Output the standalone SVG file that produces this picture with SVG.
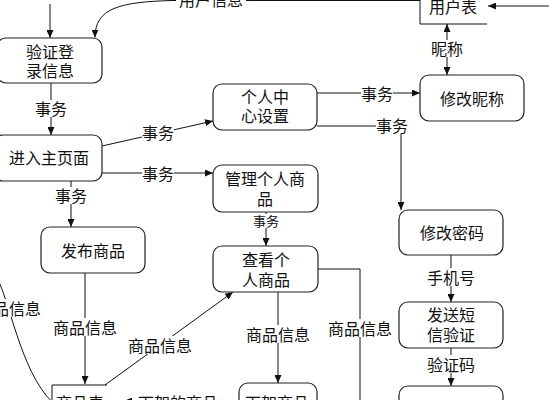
<svg xmlns="http://www.w3.org/2000/svg" width="549" height="400" viewBox="0 0 549 400">
<style>
text{font-family:"Noto Sans CJK SC","Liberation Sans",sans-serif;font-size:16px;fill:#111;text-anchor:middle;dominant-baseline:central}
.box{fill:#fff;stroke:#222;stroke-width:1.2}
.ln{fill:none;stroke:#111;stroke-width:1}
.bg{fill:#fff}
.sm{font-size:13px}
</style>
<defs>
<marker id="ar" markerWidth="8" markerHeight="7" refX="8" refY="3.5" orient="auto" markerUnits="userSpaceOnUse">
<path d="M0,0 L8,3.5 L0,7 z" fill="#111"/>
</marker>
<marker id="as" markerWidth="8" markerHeight="7" refX="0" refY="3.5" orient="auto" markerUnits="userSpaceOnUse">
<path d="M8,0 L0,3.5 L8,7 z" fill="#111"/>
</marker>
</defs>
<g id="connectors">
<line class="ln" x1="50" y1="4" x2="50" y2="38" marker-end="url(#ar)"/>
<path class="ln" d="M420 0.5 H172 C120 2 95 8 95 37.5" marker-end="url(#ar)"/>
<rect class="bg" x="176" y="-10" width="70" height="17"/><text x="211" y="-1">用户信息</text>
<line class="ln" x1="51" y1="83" x2="51" y2="135" marker-end="url(#ar)"/>
<rect class="bg" x="35" y="100" width="32" height="17"/><text x="51" y="108">事务</text>
<line class="ln" x1="102" y1="146" x2="213" y2="121" marker-end="url(#ar)"/>
<rect class="bg" x="142" y="124" width="32" height="17"/><text x="158" y="132">事务</text>
<line class="ln" x1="102" y1="173" x2="213" y2="173" marker-end="url(#ar)"/>
<rect class="bg" x="142" y="165" width="32" height="17"/><text x="158" y="173">事务</text>
<line class="ln" x1="71" y1="181" x2="71" y2="227" marker-end="url(#ar)"/>
<rect class="bg" x="55" y="187" width="32" height="17"/><text x="71" y="195">事务</text>
<line class="ln" x1="266" y1="212" x2="266" y2="246" marker-end="url(#ar)"/>
<rect class="bg" x="253" y="214" width="26" height="14"/><text class="sm" x="266" y="220">事务</text>
<line class="ln" x1="85" y1="273" x2="85" y2="384" marker-end="url(#ar)"/>
<rect class="bg" x="52" y="318" width="66" height="18"/><text x="85" y="327">商品信息</text>
<line class="ln" x1="105" y1="385" x2="233" y2="292" marker-end="url(#ar)"/>
<rect class="bg" x="127" y="336" width="66" height="18"/><text x="160" y="345">商品信息</text>
<line class="ln" x1="278" y1="292" x2="278" y2="383" marker-end="url(#ar)"/>
<rect class="bg" x="245" y="325" width="66" height="18"/><text x="278" y="334">商品信息</text>
<path class="ln" d="M318 269 H360 V420"/>
<rect class="bg" x="327" y="319" width="66" height="18"/><text x="360" y="328">商品信息</text>
<line class="ln" x1="317" y1="93" x2="420" y2="93" marker-end="url(#ar)"/>
<rect class="bg" x="361" y="85" width="32" height="17"/><text x="377" y="93">事务</text>
<path class="ln" d="M317 126 H401 V210" marker-end="url(#ar)"/>
<rect class="bg" x="376" y="117" width="32" height="17"/><text x="392" y="125">事务</text>
<line class="ln" x1="447" y1="24" x2="447" y2="75" marker-start="url(#as)" marker-end="url(#ar)"/>
<rect class="bg" x="431" y="40" width="32" height="17"/><text x="447" y="48">昵称</text>
<line class="ln" x1="549" y1="6" x2="488" y2="6" marker-end="url(#ar)"/>
<line class="ln" x1="451" y1="255" x2="451" y2="302" marker-end="url(#ar)"/>
<rect class="bg" x="427" y="268" width="48" height="18"/><text x="451" y="277">手机号</text>
<line class="ln" x1="451" y1="348" x2="451" y2="386" marker-end="url(#ar)"/>
<rect class="bg" x="427" y="355" width="48" height="18"/><text x="451" y="364">验证码</text>
<path class="ln" d="M-4 276 C10 300 20 370 52 402"/>
<rect class="bg" x="-24" y="299" width="66" height="18"/><text x="9" y="308">商品信息</text>
<line class="ln" x1="239" y1="401" x2="124" y2="401" marker-end="url(#ar)"/>
<rect class="bg" x="137" y="393" width="83" height="18"/><text x="178" y="402">下架的商品</text>
</g>
<g id="n-yonghubiao"><path class="ln" d="M420 -20 V24 H487"/><text x="453" y="6">用户表</text></g>
<g id="n-shangpinbiao"><path class="ln" d="M52 430 V385 H107"/><text x="80" y="402">商品表</text></g>
<g id="n-yanzheng"><rect class="box" x="-3" y="38" width="105" height="45" rx="9"/><text x="50" y="51">验证登<tspan x="50" dy="19">录信息</tspan></text></g>
<g id="n-zhuye"><rect class="box" x="-6" y="135" width="108" height="46" rx="9"/><text x="49" y="157">进入主页面</text></g>
<g id="n-geren"><rect class="box" x="213" y="84" width="104" height="46" rx="9"/><text x="265" y="96">个人中<tspan x="265" dy="19">心设置</tspan></text></g>
<g id="n-guanli"><rect class="box" x="213" y="165" width="105" height="47" rx="9"/><text x="265" y="178">管理个人商<tspan x="265" dy="20">品</tspan></text></g>
<g id="n-fabu"><rect class="box" x="41" y="227" width="104" height="46" rx="9"/><text x="93" y="250">发布商品</text></g>
<g id="n-chakan"><rect class="box" x="213" y="246" width="105" height="46" rx="9"/><text x="266" y="259">查看个<tspan x="266" dy="20">人商品</tspan></text></g>
<g id="n-xiajia"><rect class="box" x="239" y="383" width="78" height="40" rx="9"/><text x="277" y="402">下架商品</text></g>
<g id="n-nicheng"><rect class="box" x="420" y="75" width="104" height="46" rx="9"/><text x="472" y="98">修改昵称</text></g>
<g id="n-mima"><rect class="box" x="399" y="210" width="104" height="45" rx="9"/><text x="452" y="232">修改密码</text></g>
<g id="n-duanxin"><rect class="box" x="399" y="302" width="104" height="46" rx="9"/><text x="451" y="314">发送短<tspan x="451" dy="20">信验证</tspan></text></g>
<g id="n-last"><rect class="box" x="399" y="386" width="104" height="40" rx="9"/></g>
</svg>
